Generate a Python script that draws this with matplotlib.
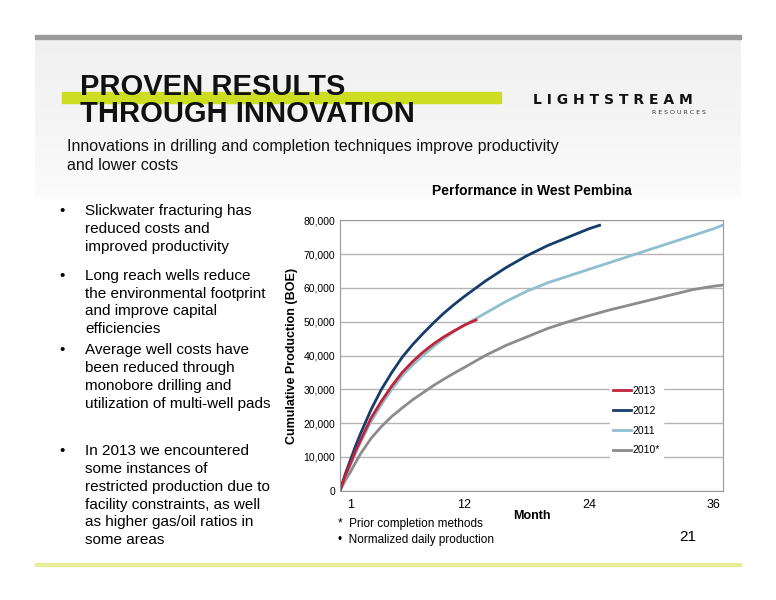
import matplotlib
matplotlib.use("Agg")
import matplotlib.pyplot as plt
from matplotlib.patches import Rectangle

m2013 = [0, 0.5, 1, 1.5, 2, 3, 4, 5, 6, 7, 8, 9, 10, 11, 12, 13.1]
v2013 = [0, 4300, 8000, 11700, 15000, 21500, 26500, 31000, 35000, 38200, 41000, 43400, 45500, 47300, 49000, 50500]
m2012 = [0, 0.5, 1, 1.5, 2, 3, 4, 5, 6, 7, 8, 9, 10, 11, 12, 14, 16, 18, 20, 22, 24, 25]
v2012 = [0, 4800, 9000, 13200, 17000, 24000, 30000, 35000, 39500, 43200, 46500, 49600, 52500, 55100, 57500,
         62000, 66000, 69500, 72500, 75000, 77500, 78500]
m2011 = [0, 0.5, 1, 1.5, 2, 3, 4, 5, 6, 7, 8, 9, 10, 11, 12, 14, 16, 18, 20, 22, 24, 26, 28, 30, 32, 34, 36, 36.8]
v2011 = [0, 4000, 7500, 11100, 14500, 20500, 25500, 30000, 34000, 37200, 40000, 42600, 45000, 47100, 49000,
         52500, 56000, 59000, 61500, 63500, 65500, 67500, 69500, 71500, 73500, 75500, 77500, 78500]
m2010 = [0, 0.5, 1, 1.5, 2, 3, 4, 5, 6, 7, 8, 9, 10, 11, 12, 14, 16, 18, 20, 22, 24, 26, 28, 30, 32, 34, 36, 36.8]
v2010 = [0, 3000, 5500, 8300, 11000, 15500, 19000, 22000, 24500, 26900, 29000, 31100, 33000, 34800, 36500,
         40000, 43000, 45500, 48000, 50000, 51800, 53500, 55000, 56500, 58000, 59500, 60500, 60800]
xticks = [1, 12, 24, 36]
yticks = list(range(0, 80001, 10000))

F = "Liberation Sans"
fig = plt.figure(figsize=(7.76, 6), dpi=100)
fig.patch.set_facecolor("white")
# slide decoration: gradient-ish band
n = 30
for i in range(n):
    y0 = 0.66 + i * (0.28 / n)
    c = 1 - 0.06 * (i / n) ** 0.5
    fig.add_artist(Rectangle((0.045, y0), 0.91, 0.28 / n + 0.001, transform=fig.transFigure,
                             color=(c, c, c), zorder=-5, lw=0))
fig.add_artist(Rectangle((0.045, 0.935), 0.91, 0.006, transform=fig.transFigure, color="#9a9a9a"))
fig.add_artist(Rectangle((0.045, 0.057), 0.91, 0.004, transform=fig.transFigure, color="#e6ee9a"))
fig.add_artist(Rectangle((0.08, 0.828), 0.565, 0.018, transform=fig.transFigure, color="#ccdd22"))
fig.text(0.103, 0.855, "PROVEN RESULTS", fontsize=21, fontweight="bold", family=F, color="#111111", va="center")
fig.text(0.103, 0.81, "THROUGH INNOVATION", fontsize=21, fontweight="bold", family=F, color="#111111", va="center")
fig.text(0.79, 0.833, "L I G H T S T R E A M", fontsize=10, fontweight="bold", color="#111111", va="center", ha="center")
fig.text(0.875, 0.812, "R E S O U R C E S", fontsize=4.5, color="#333333", va="center", ha="center")
fig.text(0.086, 0.74, "Innovations in drilling and completion techniques improve productivity\nand lower costs",
         fontsize=11.5, family=F, color="#111111", va="center", linespacing=1.3)
bullets = ["Slickwater fracturing has\nreduced costs and\nimproved productivity",
           "Long reach wells reduce\nthe environmental footprint\nand improve capital\nefficiencies",
           "Average well costs have\nbeen reduced through\nmonobore drilling and\nutilization of multi-well pads",
           "In 2013 we encountered\nsome instances of\nrestricted production due to\nfacility constraints, as well\nas higher gas/oil ratios in\nsome areas"]
ys = [0.66, 0.552, 0.428, 0.26]
for y, b in zip(ys, bullets):
    fig.text(0.077, y, "•", fontsize=11, family=F, va="top")
    fig.text(0.11, y, b, fontsize=11, family=F, va="top", linespacing=1.35)
fig.text(0.435, 0.122, "*  Prior completion methods", fontsize=8.5, family=F)
fig.text(0.435, 0.095, "•  Normalized daily production", fontsize=8.5, family=F)
fig.text(0.875, 0.098, "21", fontsize=11, family=F)

ax = fig.add_axes([0.438, 0.182, 0.494, 0.451])
ax.set_facecolor("white")
ax.plot(m2010, v2010, color="#8c8c8c", lw=2, label="2010*")
ax.plot(m2011, v2011, color="#8fbfd0", lw=2, label="2011")
ax.plot(m2012, v2012, color="#163d6b", lw=2, label="2012")
ax.plot(m2013, v2013, color="#c0243a", lw=2, label="2013")
ax.set_xlim(0, 36.9)
ax.set_ylim(0, 80000)
ax.set_xticks(xticks)
ax.set_yticks(yticks)
ax.set_yticklabels([f"{v:,}" for v in yticks], family=F)
ax.set_xticklabels([str(t) for t in xticks], family=F, fontsize=9)
ax.tick_params(axis="y", labelsize=7.5, length=0)
ax.tick_params(axis="x", length=0, pad=6)
ax.grid(axis="y", color="#b5b5b5", lw=1)
ax.set_axisbelow(True)
for s in ax.spines.values():
    s.set_color("#999999")
ax.set_xlabel("Month", fontsize=9, fontweight="bold", labelpad=-1, family=F)
ax.set_ylabel("Cumulative Production (BOE)", fontsize=9, fontweight="bold", labelpad=4, family=F)
ax.set_title("Performance in West Pembina", fontsize=10, fontweight="bold", pad=18, family=F)
h, l = ax.get_legend_handles_labels()
leg = ax.legend(h[::-1], l[::-1], loc="lower left", bbox_to_anchor=(0.69, 0.1),
                prop={"family": F, "size": 7.5},
                frameon=True, framealpha=1, edgecolor="white", handlelength=1.8, handletextpad=0.1,
                labelspacing=0.95, borderpad=0.3)
fig.savefig("out.png", dpi=100)
